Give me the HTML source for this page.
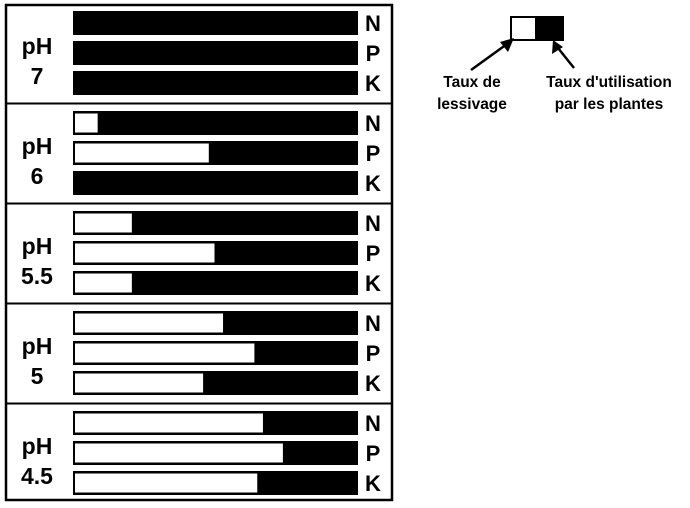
<!DOCTYPE html>
<html><head><meta charset="utf-8"><style>
body{margin:0;background:#fff;width:690px;height:503px;overflow:hidden}
svg text{font-family:"Liberation Sans",sans-serif;font-weight:bold;fill:#000}
</style></head><body>
<svg id="c" width="690" height="503">
<rect x="6" y="5" width="386" height="495" fill="none" stroke="#000" stroke-width="2.5"/>
<g id="rows"></g>
<g>
<rect x="511" y="17" width="25" height="23" fill="#fff" stroke="#000" stroke-width="2"/>
<rect x="536" y="17" width="27" height="23" fill="#000" stroke="#000" stroke-width="2"/>
<line x1="471" y1="70" x2="507" y2="44" stroke="#000" stroke-width="2.5"/>
<polygon points="514,38 500,42 508,52" fill="#000"/>
<line x1="574" y1="68" x2="558" y2="48" stroke="#000" stroke-width="2.5"/>
<polygon points="553,40 552,54 563,47" fill="#000"/>
<text x="472" y="87" font-size="15.5" text-anchor="middle">Taux de</text>
<text x="472" y="109" font-size="15.5" text-anchor="middle">lessivage</text>
<text x="609" y="87" font-size="15.5" text-anchor="middle">Taux d'utilisation</text>
<text x="609" y="109" font-size="15.5" text-anchor="middle">par les plantes</text>
</g>
</svg>
<script>
const phLabels=["7","6","5.5","5","4.5"];
const nutrients=["N","P","K"];
const leachN=[0,0.09,0.21,0.53,0.67];
const leachP=[0,0.48,0.50,0.64,0.74];
const leachK=[0,0,0.21,0.46,0.65];
const series=[leachN,leachP,leachK];
const NS="http://www.w3.org/2000/svg";
const g=document.getElementById('rows');
const x0=73,W=285,H=24,gy0=11,gstep=100,rstep=30;
function mk(t,a){const e=document.createElementNS(NS,t);for(const k in a)e.setAttribute(k,a[k]);g.appendChild(e);return e;}
phLabels.forEach((ph,i)=>{
  const top=gy0+i*gstep;
  if(i>0){const l=mk('line',{x1:6,x2:392,y1:top-7.5,y2:top-7.5,stroke:'#000','stroke-width':2});
    
    }
  const t1=mk('text',{x:37,y:top+43,'font-size':23,'text-anchor':'middle'});t1.textContent='pH';
  
  
  const t2=mk('text',{x:37,y:top+73,'font-size':23,'text-anchor':'middle'});t2.textContent=ph;
  
  
  nutrients.forEach((n,j)=>{
    const y=top+j*rstep;
    const b=mk('rect',{x:x0,y:y,width:W,height:H,fill:'#000'});
    
    
    const f=series[j][i];
    if(f>0){const w=mk('rect',{x:x0+1,y:y+1.5,width:f*W-1,height:H-3,fill:'#fff',stroke:'#000','stroke-width':2});
      
      }
    const tl=mk('text',{x:373,y:y+20,'font-size':22,'text-anchor':'middle'});tl.textContent=n;
    
    
  });
});
</script>
</body></html>
